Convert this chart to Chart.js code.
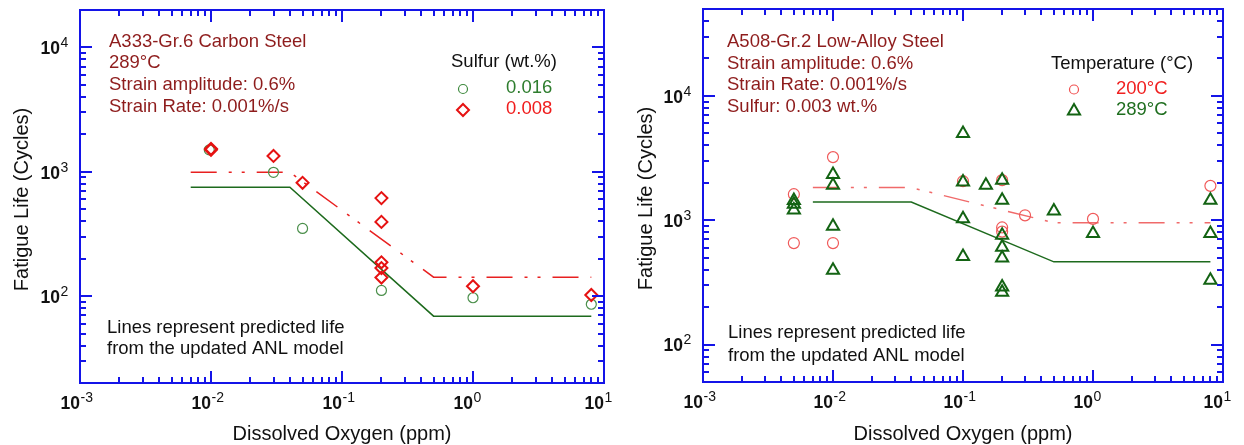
<!DOCTYPE html>
<html><head><meta charset="utf-8">
<script src="https://cdn.jsdelivr.net/npm/chart.js@4.4.1/dist/chart.umd.min.js"></script>
<style>
html,body{margin:0;padding:0;background:#fff;overflow:hidden}
#wrap{position:relative;width:1244px;height:445px;background:#fff}
canvas{position:absolute;top:0}
</style></head><body>
<div id="wrap">
<canvas id="c1" width="622" height="445" style="left:0"></canvas>
<canvas id="c2" width="622" height="445" style="left:622px"></canvas>
</div>
<script>
// ---------- data ----------
const xTickExps = [-3, -2, -1, 0, 1];
const leftYTickExps = [2, 3, 4];
const rightYTickExps = [2, 3, 4];
const minorMultipliers = [2, 3, 4, 5, 6, 7, 8, 9];

// Left: A333-Gr.6 carbon steel
const leftCircleX = [0.0097, 0.03, 0.05, 0.2, 1, 8];            // S 0.016
const leftCircleY = [1500, 990, 350, 111, 97, 86];
const leftDiamondX = [0.01, 0.01, 0.03, 0.05, 0.2, 0.2, 0.2, 0.2, 0.2, 1, 8]; // S 0.008
const leftDiamondY = [1500, 1530, 1340, 815, 614, 395, 187, 168, 141, 120, 102];
const leftModelX = [0.007, 0.04, 0.5, 8];
const leftModel016 = [750, 750, 69, 69];
const leftModel008 = [990, 990, 142, 142];

// Right: A508-Gr.2 low-alloy steel
const rightCircleX = [0.005, 0.005, 0.01, 0.01, 0.1, 0.2, 0.2, 0.2, 0.3, 1, 8];  // 200 C
const rightCircleY = [1620, 655, 3220, 655, 2060, 2100, 875, 810, 1095, 1025, 1890];
const rightTriX = [0.005, 0.005, 0.005, 0.01, 0.01, 0.01, 0.01, 0.1, 0.1, 0.1, 0.1, 0.15,
                   0.2, 0.2, 0.2, 0.2, 0.2, 0.2, 0.2, 0.5, 1, 8, 8, 8];         // 289 C
const rightTriY = [1440, 1345, 1210, 2335, 1915, 893, 396, 4980, 2030, 1030, 510, 1910,
                   2100, 1450, 757, 605, 498, 291, 263, 1188, 781, 1450, 781, 329];
const rightModelX = [0.007, 0.04, 0.5, 8];
const rightModel200 = [1830, 1830, 955, 955];
const rightModel289 = [1400, 1400, 463, 463];

// ---------- helpers ----------
const FONT = '"Liberation Sans", Arial, Helvetica, sans-serif';
const BLUE = '#1414e8';
const pts = (xs, ys) => xs.map((x, i) => ({x: x, y: ys[i]}));

function drawPower(ctx, exp, xRight, yMid) {
  ctx.fillStyle = '#111';
  ctx.font = 'bold 17.5px ' + FONT;
  ctx.textAlign = 'right'; ctx.textBaseline = 'middle';
  ctx.fillText('10', xRight, yMid);
  ctx.font = '14px ' + FONT;
  ctx.textAlign = 'left';
  ctx.fillText(String(exp), xRight + 0.5, yMid - 6);
}

function decor(cfg) {
  return {
    id: 'decor',
    afterDraw(chart) {
      const ctx = chart.ctx;
      const a = chart.chartArea;
      const xs = chart.scales.x, ys = chart.scales.y;
      ctx.save();
      // ticks
      ctx.strokeStyle = BLUE; ctx.lineWidth = 2;
      const xMin = xs.min, xMax = xs.max, yMin = ys.min, yMax = ys.max;
      const decadeTicks = (min, max) => {
        const out = [];
        for (let e = Math.floor(Math.log10(min)) - 1; e <= Math.ceil(Math.log10(max)); e++) {
          [1].concat(minorMultipliers).forEach(m => {
            const v = m * Math.pow(10, e);
            if (v >= min * 0.9999 && v <= max * 1.0001) out.push({v: v, major: m === 1});
          });
        }
        return out;
      };
      ctx.beginPath();
      decadeTicks(xMin, xMax).forEach(t => {
        const px = Math.round(xs.getPixelForValue(t.v));
        const L = t.major ? 12 : 6;
        ctx.moveTo(px, a.bottom); ctx.lineTo(px, a.bottom - L);
        ctx.moveTo(px, a.top); ctx.lineTo(px, a.top + L);
      });
      decadeTicks(yMin, yMax).forEach(t => {
        const py = Math.round(ys.getPixelForValue(t.v));
        const L = t.major ? 12 : 6;
        ctx.moveTo(a.left, py); ctx.lineTo(a.left + L, py);
        ctx.moveTo(a.right, py); ctx.lineTo(a.right - L, py);
      });
      ctx.stroke();
      // frame
      ctx.lineWidth = 2;
      ctx.strokeRect(a.left, a.top, a.right - a.left, a.bottom - a.top);

      // tick labels
      xTickExps.forEach(e => {
        const px = xs.getPixelForValue(Math.pow(10, e));
        drawPower(ctx, e, px, a.bottom + 21);
      });
      cfg.yExps.forEach(e => {
        const py = ys.getPixelForValue(Math.pow(10, e));
        drawPower(ctx, e, a.left - 20, py + 2);
      });

      // axis titles
      ctx.fillStyle = '#111';
      ctx.font = '20px ' + FONT;
      ctx.textAlign = 'center'; ctx.textBaseline = 'middle';
      ctx.fillText('Dissolved Oxygen (ppm)', (a.left + a.right) / 2, 434);
      ctx.save();
      ctx.translate(cfg.yTitleX, (a.top + a.bottom) / 2 + 3);
      ctx.rotate(-Math.PI / 2);
      ctx.fillText('Fatigue Life (Cycles)', 0, 0);
      ctx.restore();

      // annotations
      ctx.textAlign = 'left'; ctx.textBaseline = 'middle';
      ctx.font = '18.5px ' + FONT;
      ctx.fillStyle = '#8e1c1c';
      cfg.notes.forEach((t, i) => ctx.fillText(t, cfg.noteX, cfg.noteYs[i]));
      ctx.fillStyle = '#111';
      ctx.fillText(cfg.legendTitle, cfg.legTitleX, cfg.legTitleY);
      cfg.legendItems.forEach(it => {
        ctx.fillStyle = it.color;
        ctx.fillText(it.label, cfg.legLabelX, it.y);
        ctx.save();
        ctx.fillStyle = 'rgba(0,0,0,0)';
        ctx.strokeStyle = it.mcolor; ctx.lineWidth = it.bw;
        Chart.helpers.drawPoint(ctx, {pointStyle: it.style, radius: it.radius, rotation: 0,
          borderWidth: it.bw}, cfg.legMarkX, it.y + 1);
        ctx.restore();
      });
      ctx.fillStyle = '#111';
      ctx.font = '18.5px ' + FONT;
      ctx.fillText('Lines represent predicted life', cfg.bottomX, cfg.bottomYs[0]);
      ctx.fillText('from the updated ANL model', cfg.bottomX, cfg.bottomYs[1]);
      ctx.restore();
    }
  };
}

function baseOptions(pad, yMin, yMax) {
  return {
    responsive: false, animation: false, devicePixelRatio: 1,
    layout: {padding: pad},
    plugins: {legend: {display: false}, tooltip: {enabled: false}},
    events: [],
    scales: {
      x: {type: 'logarithmic', min: 0.001, max: 10, display: false},
      y: {type: 'logarithmic', min: yMin, max: yMax, display: false}
    }
  };
}

// ---------- left chart ----------
new Chart(document.getElementById('c1'), {
  type: 'scatter',
  data: {
    datasets: [
      {label: '0.008', data: pts(leftDiamondX, leftDiamondY), pointStyle: 'rectRot', pointRadius: 6,
       borderColor: '#e61212', backgroundColor: 'rgba(0,0,0,0)', borderWidth: 2},
      {label: '0.016', data: pts(leftCircleX, leftCircleY), pointStyle: 'circle', pointRadius: 5,
       borderColor: '#4b8f4b', backgroundColor: 'rgba(0,0,0,0)', borderWidth: 1.2},
      {label: 'model 0.008', data: pts(leftModelX, leftModel008), showLine: true, pointRadius: 0,
       borderColor: '#e82020', borderWidth: 1.5, borderDash: [26, 12, 3, 10, 3, 12], fill: false},
      {label: 'model 0.016', data: pts(leftModelX, leftModel016), showLine: true, pointRadius: 0,
       borderColor: '#1d6a1d', borderWidth: 1.5, fill: false}
    ]
  },
  options: baseOptions({left: 80, right: 18, top: 10, bottom: 62}, 20, 20000),
  plugins: [decor({
    yExps: leftYTickExps, yTitleX: 22,
    notes: ['A333-Gr.6 Carbon Steel', '289°C', 'Strain amplitude: 0.6%', 'Strain Rate: 0.001%/s'],
    noteX: 109, noteYs: [42, 63, 84.5, 106.5],
    legendTitle: 'Sulfur (wt.%)', legTitleX: 451, legTitleY: 62,
    legMarkX: 463, legLabelX: 506,
    legendItems: [
      {label: '0.016', y: 88, color: '#2e7d2e', mcolor: '#3f8a3f', style: 'circle', radius: 4.5, bw: 1.2},
      {label: '0.008', y: 109, color: '#f01c1c', mcolor: '#e61212', style: 'rectRot', radius: 6, bw: 2}
    ],
    bottomX: 107, bottomYs: [328, 349]
  })]
});

// ---------- right chart ----------
new Chart(document.getElementById('c2'), {
  type: 'scatter',
  data: {
    datasets: [
      {label: '289°C', data: pts(rightTriX, rightTriY), pointStyle: 'triangle', pointRadius: 7,
       borderColor: '#136313', backgroundColor: 'rgba(0,0,0,0)', borderWidth: 2},
      {label: '200°C', data: pts(rightCircleX, rightCircleY), pointStyle: 'circle', pointRadius: 5.5,
       borderColor: '#f05a5a', backgroundColor: 'rgba(0,0,0,0)', borderWidth: 1.2},
      {label: 'model 200', data: pts(rightModelX, rightModel200), showLine: true, pointRadius: 0,
       borderColor: '#f06a6a', borderWidth: 1.5, borderDash: [26, 12, 3, 10, 3, 12], fill: false},
      {label: 'model 289', data: pts(rightModelX, rightModel289), showLine: true, pointRadius: 0,
       borderColor: '#1d6a1d', borderWidth: 1.5, fill: false}
    ]
  },
  options: baseOptions({left: 81, right: 21, top: 9, bottom: 63}, 50, 50000),
  plugins: [decor({
    yExps: rightYTickExps, yTitleX: 24,
    notes: ['A508-Gr.2 Low-Alloy Steel', 'Strain amplitude: 0.6%', 'Strain Rate: 0.001%/s', 'Sulfur: 0.003 wt.%'],
    noteX: 105, noteYs: [42, 63.5, 85, 106.5],
    legendTitle: 'Temperature (°C)', legTitleX: 429, legTitleY: 64,
    legMarkX: 452, legLabelX: 494,
    legendItems: [
      {label: '200°C', y: 88.5, color: '#f02020', mcolor: '#f05050', style: 'circle', radius: 4.5, bw: 1.2},
      {label: '289°C', y: 110, color: '#1f6e1f', mcolor: '#136313', style: 'triangle', radius: 7, bw: 2}
    ],
    bottomX: 106, bottomYs: [333, 356]
  })]
});
</script>
</body></html>
